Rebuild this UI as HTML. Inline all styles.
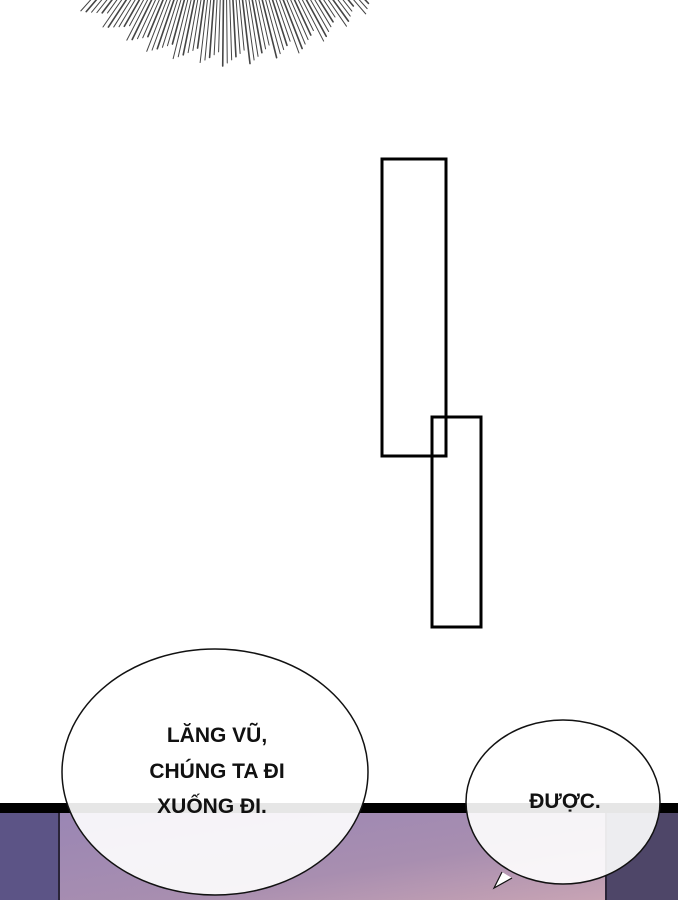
<!DOCTYPE html>
<html><head><meta charset="utf-8"><style>
html,body{margin:0;padding:0;background:#fff}
body{width:678px;height:900px;overflow:hidden;position:relative;font-family:"Liberation Sans",sans-serif}
</style></head><body>
<svg width="678" height="900" viewBox="0 0 678 900" xmlns="http://www.w3.org/2000/svg" style="position:absolute;left:0;top:0">
<defs>
<linearGradient id="pg" x1="0" y1="0" x2="1" y2="1">
<stop offset="0" stop-color="#9a86b4"/><stop offset="0.6" stop-color="#a88eb0"/><stop offset="1" stop-color="#c8a4b4"/>
</linearGradient>
</defs>
<g id="rays" stroke="#444" stroke-linecap="round"></g>
<rect x="0" y="812" width="678" height="88" fill="#5c5486"/>
<rect x="60" y="812" width="545" height="88" fill="url(#pg)"/>
<rect x="605" y="812" width="73" height="88" fill="#4e4668"/>
<line x1="59" y1="812" x2="59" y2="900" stroke="#2a2438" stroke-width="2"/>
<line x1="606" y1="812" x2="606" y2="900" stroke="#2a2438" stroke-width="2"/>
<rect x="0" y="803" width="678" height="10" fill="#000"/>
<rect x="382" y="159" width="64" height="297" fill="none" stroke="#000" stroke-width="3"/>
<rect x="432" y="417" width="49" height="210" fill="none" stroke="#000" stroke-width="3"/>
<ellipse cx="215" cy="772" rx="153" ry="123" fill="#fff" fill-opacity="0.9" stroke="#111" stroke-width="1.5"/>
<ellipse cx="563" cy="802" rx="97" ry="82" fill="#fff" fill-opacity="0.9" stroke="#111" stroke-width="1.5"/>
<path d="M502 872 L494 888 L512 878" fill="#fff" stroke="#111" stroke-width="1.2"/>
<g font-family="Liberation Sans, sans-serif" font-weight="bold" font-size="21" fill="#111" text-anchor="middle">
<text x="217" y="742">LĂNG VŨ,</text>
<text x="217" y="778">CHÚNG TA ĐI</text>
<text x="212" y="813">XUỐNG ĐI.</text>
<text x="565" y="808">ĐƯỢC.</text>
</g>
</svg>
<script>
var g=document.getElementById('rays'),s='';
var cx=225,cy=-150;
for(var i=0;i<90;i++){var a=Math.PI*(0.2+0.6*i/89);var r2=200+((i*37)%17);var r1=120;
var w=(i%3==0)?1.6:1;
s+='<line x1="'+(cx+Math.cos(a)*r1)+'" y1="'+(cy+Math.sin(a)*r1)+'" x2="'+(cx+Math.cos(a)*r2)+'" y2="'+(cy+Math.sin(a)*r2)+'" stroke-width="'+w+'"/>';}
g.innerHTML=s;
</script>
</body></html>
